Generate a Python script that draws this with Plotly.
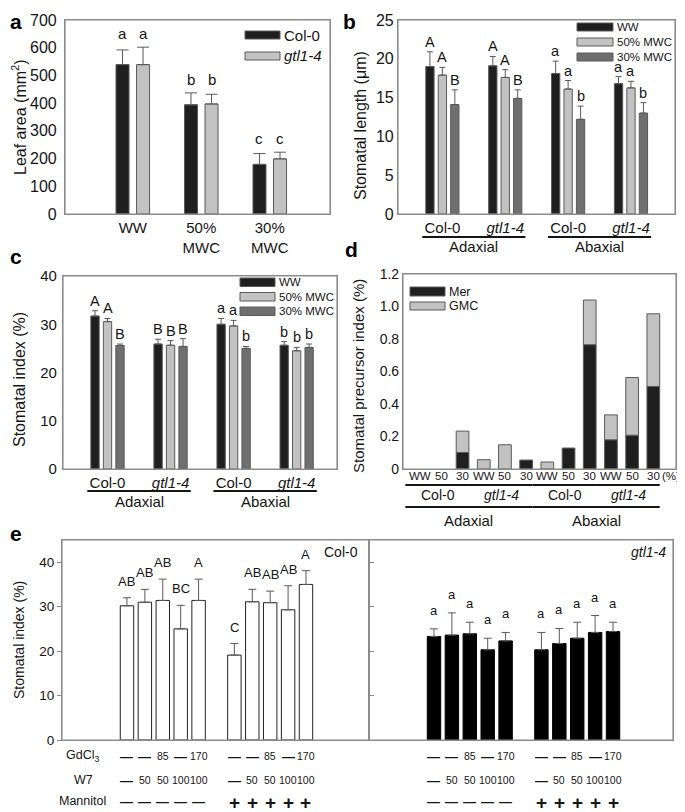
import plotly.graph_objects as go

# The page body has an 8px default margin; the figure is sized so that it
# exactly fills the 685x812 window after that offset.
PAGE_W, PAGE_H = 685, 812
OFF = 8
W, H = PAGE_W - OFF, PAGE_H - OFF
FONT = "Liberation Sans, Arial, Helvetica, sans-serif"
INK = "#151515"
BLACK_FILL = "#1f1f1f"
LIGHT_FILL = "#c2c2c2"
DARK_FILL = "#6f6f6f"
EDGE = "#5a5a5a"
FRAME = "#8c8c8c"
ERR = "#5a5a5a"

# ---------------- data ----------------
# (a) leaf area (mm2)
a_conditions = ["WW", "50%<br>MWC", "30%<br>MWC"]
a_genotypes = ["Col-0", "<i>gtl1-4</i>"]
a_col0 = [539, 394, 179]
a_col0_err = [53, 43, 39]
a_gtl = [539, 397, 199]
a_gtl_err = [63, 35, 24]
a_letters = ["a", "b", "c"]
a_yticks = [0, 100, 200, 300, 400, 500, 600, 700]

# (b), (c) shared categories
bc_genotypes = ["Col-0", "<i>gtl1-4</i>", "Col-0", "<i>gtl1-4</i>"]
bc_sides = ["Adaxial", "Abaxial"]
bc_treatments = ["WW", "50% MWC", "30% MWC"]

# (b) stomatal length (um)
b_ww = [19.0, 19.1, 18.1, 16.8]
b_ww_err = [1.9, 1.2, 1.6, 0.9]
b_50 = [17.9, 17.6, 16.1, 16.25]
b_50_err = [1.0, 1.0, 1.1, 0.85]
b_30 = [14.1, 14.9, 12.2, 13.0]
b_30_err = [1.9, 1.1, 1.7, 1.35]
b_ww_letters = ["A", "A", "a", "a"]
b_50_letters = ["A", "A", "a", "a"]
b_30_letters = ["B", "B", "b", "b"]
b_yticks = [0, 5, 10, 15, 20, 25]

# (c) stomatal index (%)
c_ww = [31.7, 25.9, 30.0, 25.65]
c_ww_err = [1.1, 1.0, 1.2, 0.75]
c_50 = [30.55, 25.65, 29.65, 24.5]
c_50_err = [0.65, 0.95, 1.15, 0.7]
c_30 = [25.6, 25.4, 25.0, 25.2]
c_30_err = [0.3, 1.6, 0.4, 0.7]
c_ww_letters = ["A", "B", "a", "b"]
c_50_letters = ["A", "B", "a", "b"]
c_30_letters = ["B", "B", "b", "b"]
c_yticks = [0, 10, 20, 30, 40]

# (d) stomatal precursor index (%)
d_levels = ["WW", "50", "30"] * 4
d_genotypes = ["Col-0", "<i>gtl1-4</i>", "Col-0", "<i>gtl1-4</i>"]
d_mer = [0, 0, 0.102, 0, 0, 0.055, 0, 0.129, 0.765, 0.18, 0.208, 0.508]
d_gmc = [0, 0, 0.131, 0.057, 0.149, 0, 0.043, 0, 0.275, 0.153, 0.355, 0.447]
d_yticks = [0, 0.2, 0.4, 0.6, 0.8, 1.0, 1.2]
d_yticktext = ["0", "0.2", "0.4", "0.6", "0.8", "1.0", "1.2"]

# (e) stomatal index (%) with inhibitors
e_gdcl3 = ["\u2014", "\u2014", "85", "\u2014", "170"]
e_w7 = ["\u2014", "50", "50", "100", "100"]
e_mannitol = ["\u2014", "+"]
e_col0 = [30.2, 31.0, 31.4, 25.0, 31.4, 19.1, 31.1, 30.9, 29.3, 35.0]
e_col0_err = [1.8, 2.9, 4.8, 5.3, 4.8, 2.6, 2.8, 2.6, 5.4, 3.1]
e_col0_letters = ["AB", "AB", "AB", "BC", "A", "C", "AB", "AB", "AB", "A"]
e_gtl = [23.3, 23.6, 23.9, 20.3, 22.3, 20.3, 21.7, 22.9, 24.2, 24.4]
e_gtl_err = [1.7, 5.0, 2.6, 2.6, 1.9, 3.9, 3.4, 3.6, 3.8, 2.1]
e_gtl_letters = ["a"] * 10
e_yticks = [0, 10, 20, 30, 40]

# ---------------- helpers ----------------
def X(px):
    return (px - OFF) / W

def Y(py):
    return 1 - (py - OFF) / H

fig = go.Figure()
annotations = []
shapes = []


def ann(text, x, y, xref="paper", yref="paper", size=14, xanchor="center",
        yanchor="middle", yshift=0, textangle=0):
    annotations.append(dict(text=text, x=x, y=y, xref=xref, yref=yref,
                            showarrow=False, xanchor=xanchor, yanchor=yanchor,
                            yshift=yshift, textangle=textangle,
                            font=dict(family=FONT, size=size, color=INK)))


def add_bars(xs, ys, errs, color, xa, ya, width, err_w=3, base=None,
             edge=EDGE):
    kw = {}
    if errs is not None:
        kw["error_y"] = dict(type="data", symmetric=False, array=errs,
                             arrayminus=[0] * len(errs), color=ERR,
                             thickness=1, width=err_w)
    if base is not None:
        kw["base"] = base
    fig.add_trace(go.Bar(x=xs, y=ys, width=width, xaxis=xa, yaxis=ya,
                         marker=dict(color=color, line=dict(color=edge, width=1)),
                         showlegend=False, hoverinfo="skip", **kw))


def legend_patch(x0, y0, x1, y1, color, label, size):
    shapes.append(dict(type="rect", xref="paper", yref="paper",
                       x0=X(x0), x1=X(x1), y0=Y(y1), y1=Y(y0),
                       fillcolor=color, line=dict(color=EDGE, width=1)))
    ann(label, X(x1 + 1.5), Y((y0 + y1) / 2), size=size, xanchor="left")


def axis(domain, rng, **kw):
    d = dict(domain=domain, range=rng, showline=True, mirror=True,
             linecolor=FRAME, linewidth=1.2, showgrid=False, zeroline=False,
             ticks="", fixedrange=True, automargin=False,
             tickfont=dict(family=FONT, size=14, color=INK))
    d.update(kw)
    return d


def frame(xa, ya):
    shapes.append(dict(type="rect", xref=xa + " domain", yref=ya + " domain",
                       x0=0, x1=1, y0=0, y1=1, line=dict(color=FRAME, width=1.2),
                       fillcolor="rgba(0,0,0,0)", layer="above"))

# ---------------- panel a ----------------
a_x = list(range(len(a_conditions)))
A_OFF, A_W = 0.15, 0.19
add_bars([i - A_OFF for i in a_x], a_col0, a_col0_err, BLACK_FILL, "x", "y", A_W, err_w=6)
add_bars([i + A_OFF for i in a_x], a_gtl, a_gtl_err, LIGHT_FILL, "x", "y", A_W, err_w=6)
for i in a_x:
    top = max(a_col0[i] + a_col0_err[i], a_gtl[i] + a_gtl_err[i])
    for off in (-A_OFF, A_OFF):
        ann(a_letters[i], i + off, top, xref="x", yref="y", size=15,
            yanchor="bottom", yshift=3)
legend_patch(245, 31, 280, 39, BLACK_FILL, a_genotypes[0], 15)
legend_patch(245, 52, 280, 60, LIGHT_FILL, a_genotypes[1], 15)
ann("Leaf area (mm<sup>2</sup>)", X(19), Y(117), size=16, textangle=-90)

# ---------------- panels b and c ----------------
BC_OFF, BC_W = 0.198, 0.132
bc_x = list(range(len(bc_genotypes)))
bc_colors = [BLACK_FILL, LIGHT_FILL, DARK_FILL]

b_series = [(b_ww, b_ww_err, b_ww_letters), (b_50, b_50_err, b_50_letters),
            (b_30, b_30_err, b_30_letters)]
c_series = [(c_ww, c_ww_err, c_ww_letters), (c_50, c_50_err, c_50_letters),
            (c_30, c_30_err, c_30_letters)]

for series, xa, ya in ((b_series, "x2", "y2"), (c_series, "x3", "y3")):
    for k, (vals, errs, letters) in enumerate(series):
        off = (k - 1) * BC_OFF
        xs = [i + off for i in bc_x]
        add_bars(xs, vals, errs, bc_colors[k], xa, ya, BC_W, err_w=3)
        for xi, v, e, L in zip(xs, vals, errs, letters):
            ann(L, xi, v + e, xref=xa, yref=ya, size=14.5,
                yanchor="bottom", yshift=0)

# b legend
for k, name in enumerate(bc_treatments):
    legend_patch(577, 23 + 15 * k, 613, 31 + 15 * k, bc_colors[k], name, 11.5)
# c legend
for k, name in enumerate(bc_treatments):
    legend_patch(240, 278 + 14.5 * k, 275, 286.5 + 14.5 * k, bc_colors[k], name, 11.5)

# group lines + side labels
for s, side in enumerate(bc_sides):
    for xa, yline, ytext in (("x2", 237, 247), ("x3", 491, 501)):
        shapes.append(dict(type="line", xref=xa, yref="paper",
                           x0=2 * s - 0.32, x1=2 * s + 1.32, y0=Y(yline), y1=Y(yline),
                           line=dict(color=INK, width=2)))
        ann(side, 2 * s + 0.5, Y(ytext), xref=xa, size=15)

ann("Stomatal length (\u03bcm)", X(360), Y(125), size=16, textangle=-90)
ann("Stomatal index (%)", X(19), Y(380), size=16, textangle=-90)

# ---------------- panel d ----------------
d_x = list(range(len(d_levels)))
D_W = 0.6
add_bars(d_x, [v if v > 0 else None for v in d_mer], None, BLACK_FILL, "x4", "y4", D_W)
add_bars(d_x, [v if v > 0 else None for v in d_gmc], None, LIGHT_FILL, "x4", "y4", D_W,
         base=d_mer)
legend_patch(410, 287, 445, 296, BLACK_FILL, "Mer", 12.5)
legend_patch(410, 302, 445, 310, LIGHT_FILL, "GMC", 12.5)
for xi, lvl in zip(d_x, d_levels):
    ann(lvl, xi, Y(476), xref="x4", size=11.5)
ann("(%)", X(671), Y(476), size=11.5)
for g, gname in enumerate(d_genotypes):
    shapes.append(dict(type="line", xref="x4", yref="paper",
                       x0=3 * g - 0.7, x1=3 * g + 2.3, y0=Y(485), y1=Y(485),
                       line=dict(color=INK, width=2)))
    ann(gname, 3 * g + 0.85, Y(495), xref="x4", size=14)
for s, side in enumerate(bc_sides):
    shapes.append(dict(type="line", xref="x4", yref="paper",
                       x0=6 * s - 0.7, x1=6 * s + 5.3, y0=Y(507), y1=Y(507),
                       line=dict(color=INK, width=2)))
    ann(side, 6 * s + 2.3, Y(520), xref="x4", size=15)
ann("Stomatal precursor index (%)", X(358), Y(376), size=15, textangle=-90)

# ---------------- panel e ----------------
n_t = len(e_gdcl3)
e_x = [g * (n_t + 1) + i for g in range(len(e_mannitol)) for i in range(n_t)]
E_W = 0.75
add_bars(e_x, e_col0, e_col0_err, "#ffffff", "x5", "y5", E_W, err_w=4, edge="#222222")
add_bars(e_x, e_gtl, e_gtl_err, "#000000", "x6", "y6", E_W, err_w=4, edge="#000000")
for xi, v, e, L in zip(e_x, e_col0, e_col0_err, e_col0_letters):
    ann(L, xi, v + e, xref="x5", yref="y5", size=13, yanchor="bottom", yshift=7)
for xi, v, e, L in zip(e_x, e_gtl, e_gtl_err, e_gtl_letters):
    ann(L, xi, v + e, xref="x6", yref="y6", size=13, yanchor="bottom", yshift=9)
ann("Col-0", X(360), Y(552), size=14, xanchor="right")
ann("<i>gtl1-4</i>", X(668), Y(552), size=14, xanchor="right")
ann("Stomatal index (%)", X(19), Y(640), size=14, textangle=-90)

ann("GdCl<sub>3</sub>", X(82), Y(756), size=12.5)
ann("W7", X(83), Y(780), size=12.5)
ann("Mannitol", X(82), Y(801), size=12.5)
for xa in ("x5", "x6"):
    for g in range(len(e_mannitol)):
        for i in range(n_t):
            xi = g * (n_t + 1) + i
            for label, ypx in ((e_gdcl3[i], 756), (e_w7[i], 780)):
                if label == "\u2014":
                    ann("<b>\u2014</b>", xi, Y(ypx), xref=xa, size=13)
                else:
                    ann(label, xi, Y(ypx), xref=xa, size=10.5)
            m = e_mannitol[g]
            if m == "+":
                ann("<b>+</b>", xi, Y(802), xref=xa, size=19)
            else:
                ann("<b>\u2014</b>", xi, Y(801), xref=xa, size=13)

# frames
for xa, ya in (("x", "y"), ("x2", "y2"), ("x3", "y3"), ("x4", "y4"), ("x5", "y5"), ("x6", "y6")):
    frame(xa, ya)

# panel letters
for letter, xp, yp, yanc in (("a", 8, 8, "top"), ("b", 341, 8, "top"),
                             ("c", 8, 257, "middle"), ("d", 343, 249, "middle"),
                             ("e", 8, 533, "middle")):
    annotations.append(dict(text="<b>%s</b>" % letter, x=X(xp), y=Y(yp), xref="paper",
                            yref="paper", showarrow=False, xanchor="left", yanchor=yanc,
                            font=dict(family=FONT, size=21, color="#000")))

# ---------------- layout ----------------
hidden = "rgba(0,0,0,0)"
fig.update_layout(
    template="none",
    width=W, height=H, margin=dict(l=0, r=0, t=0, b=0, pad=0, autoexpand=False),
    paper_bgcolor="white", plot_bgcolor="white", barmode="overlay",
    showlegend=False, font=dict(family=FONT, color=INK),
    xaxis=axis([X(65), X(330)], [-0.99, 2.88], anchor="y", tickvals=a_x,
               ticktext=a_conditions, tickfont=dict(family=FONT, size=15, color=INK)),
    yaxis=axis([Y(214), Y(20)], [0, 700], anchor="x", tickvals=a_yticks,
               tickfont=dict(family=FONT, size=16, color=INK),
               ticks="outside", ticklen=4, tickcolor=hidden),
    xaxis2=axis([X(398), X(675)], [-0.706, 3.70], anchor="y2", tickvals=bc_x,
                ticktext=bc_genotypes, tickfont=dict(family=FONT, size=15, color=INK)),
    yaxis2=axis([Y(214), Y(20)], [0, 25], anchor="x2", tickvals=b_yticks,
                tickfont=dict(family=FONT, size=16, color=INK)),
    xaxis3=axis([X(63), X(337)], [-0.706, 3.64], anchor="y3", tickvals=bc_x,
                ticktext=bc_genotypes, tickfont=dict(family=FONT, size=15, color=INK)),
    yaxis3=axis([Y(469), Y(276)], [0, 40], anchor="x3", tickvals=c_yticks,
                tickfont=dict(family=FONT, size=15, color=INK),
                ticks="outside", ticklen=2, tickcolor=hidden),
    xaxis4=axis([X(403), X(676)], [-0.81, 12.07], anchor="y4", tickvals=d_x,
                showticklabels=False),
    yaxis4=axis([Y(469), Y(274)], [0, 1.2], anchor="x4", tickvals=d_yticks,
                ticktext=d_yticktext, tickfont=dict(family=FONT, size=14, color=INK)),
    xaxis5=axis([X(62), X(369)], [-3.63, 13.52], anchor="y5", showticklabels=False),
    yaxis5=axis([Y(740), Y(540)], [0, 45], anchor="x5", tickvals=e_yticks,
                tickfont=dict(family=FONT, size=13.5, color=INK),
                ticks="outside", ticklen=4, tickcolor=FRAME),
    xaxis6=axis([X(369), X(673)], [-3.63, 13.35], anchor="y6", showticklabels=False),
    yaxis6=axis([Y(740), Y(540)], [0, 45], anchor="x6", tickvals=e_yticks,
                showticklabels=False, ticks="inside", ticklen=5, tickcolor=FRAME),
    annotations=annotations, shapes=shapes,
)

fig.write_html("out.html")
